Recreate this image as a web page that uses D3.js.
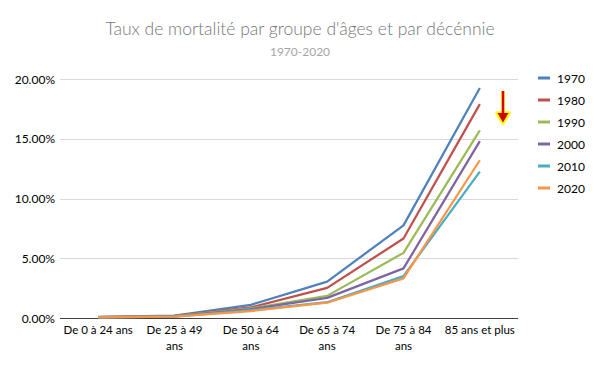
<!DOCTYPE html>
<html><head><meta charset="utf-8">
<script src="https://cdn.jsdelivr.net/npm/d3@7"></script>
<style>body{margin:0;background:#fff}svg{display:block}text{font-family:Lato,"Liberation Sans",sans-serif}</style>
</head><body><svg id="c" width="600" height="371"></svg>
<script>
const categories = ["De 0 à 24 ans","De 25 à 49 ans","De 50 à 64 ans","De 65 à 74 ans","De 75 à 84 ans","85 ans et plus"];
const years = ["1970","1980","1990","2000","2010","2020"];
const s1970 = [0.0010,0.0020,0.0110,0.0305,0.0775,0.1925];
const s1980 = [0.0008,0.0017,0.0088,0.0252,0.0665,0.1790];
const s1990 = [0.0007,0.0015,0.0080,0.0185,0.0545,0.1570];
const s2000 = [0.0006,0.0014,0.0075,0.0168,0.0415,0.1480];
const s2010 = [0.0005,0.0012,0.0065,0.0132,0.0350,0.1225];
const s2020 = [0.0005,0.0011,0.0058,0.0128,0.0332,0.1320];
const seriesValues = [s1970,s1980,s1990,s2000,s2010,s2020];
const yTicks = [0,0.05,0.10,0.15,0.20];
const colors = ["#4F81BD","#C0504D","#9BBB59","#8064A2","#4BACC6","#F79646"];

const svg = d3.select("#c");
const x = d3.scaleBand().domain(categories).range([60,518]);
const y = d3.scaleLinear().domain([0,0.20]).range([318,79]);

svg.append("text").attr("x",300).attr("y",35).attr("text-anchor","middle")
  .attr("font-size",17.5).attr("font-weight",300).attr("fill","#767676").text("Taux de mortalité par groupe d'âges et par décénnie");
svg.append("text").attr("x",300).attr("y",56).attr("text-anchor","middle")
  .attr("font-size",12).attr("fill","#a6a6a6").text("1970-2020");

svg.append("g").selectAll("line").data(yTicks.filter(d=>d>0)).join("line")
  .attr("x1",60).attr("x2",518).attr("y1",d=>Math.round(y(d))+0.5).attr("y2",d=>Math.round(y(d))+0.5)
  .attr("stroke","#d9d9d9").attr("stroke-width",1);
svg.append("g").selectAll("text").data(yTicks).join("text")
  .attr("x",55).attr("y",d=>y(d)+4.5).attr("text-anchor","end").attr("font-size",12).attr("fill","#000")
  .text(d=>d3.format(".2%")(d));
svg.append("line").attr("x1",60).attr("x2",518).attr("y1",318.5).attr("y2",318.5).attr("stroke","#404040");

const xl = svg.append("g").selectAll("text").data(categories).join("text")
  .attr("text-anchor","middle").attr("font-size",11.5).attr("fill","#000");
xl.each(function(d,i){
  const t = d3.select(this);
  const cx = x(d)+x.bandwidth()/2;
  const w = d.split(" ");
  const lines = (i===0 || i===categories.length-1) ? [d] : [w.slice(0,4).join(" "), w.slice(4).join(" ")];
  lines.forEach((l,j)=>t.append("tspan").attr("x",cx).attr("y",334+j*16).text(l));
});

const line = d3.line().x((d,i)=>x(categories[i])+x.bandwidth()/2).y(d=>y(d));
svg.append("g").selectAll("path").data(seriesValues).join("path")
  .attr("d",line).attr("fill","none").attr("stroke",(d,i)=>colors[i]).attr("stroke-width",2.25).attr("stroke-linejoin","round");

const lg = svg.append("g").selectAll("g").data(years).join("g")
  .attr("transform",(d,i)=>`translate(538,${78+i*22})`);
lg.append("line").attr("x1",0).attr("x2",12).attr("y1",0).attr("y2",0).attr("stroke",(d,i)=>colors[i]).attr("stroke-width",3);
lg.append("text").attr("x",19).attr("y",4.5).attr("font-size",12).attr("fill","#000").text(d=>d);

const ag = svg.append("g");
ag.append("path").attr("d","M503,91 L503,114 M497,113 L503,123 L509,113 Z")
  .attr("fill","#ffff00").attr("stroke","#ffff00").attr("stroke-width",3.5).attr("stroke-linejoin","round");
ag.append("line").attr("x1",503).attr("x2",503).attr("y1",91).attr("y2",115).attr("stroke","#e00000").attr("stroke-width",2.5);
ag.append("path").attr("d","M497.5,113 L503,122.5 L508.5,113 Z").attr("fill","#d00000");
</script></body></html>
